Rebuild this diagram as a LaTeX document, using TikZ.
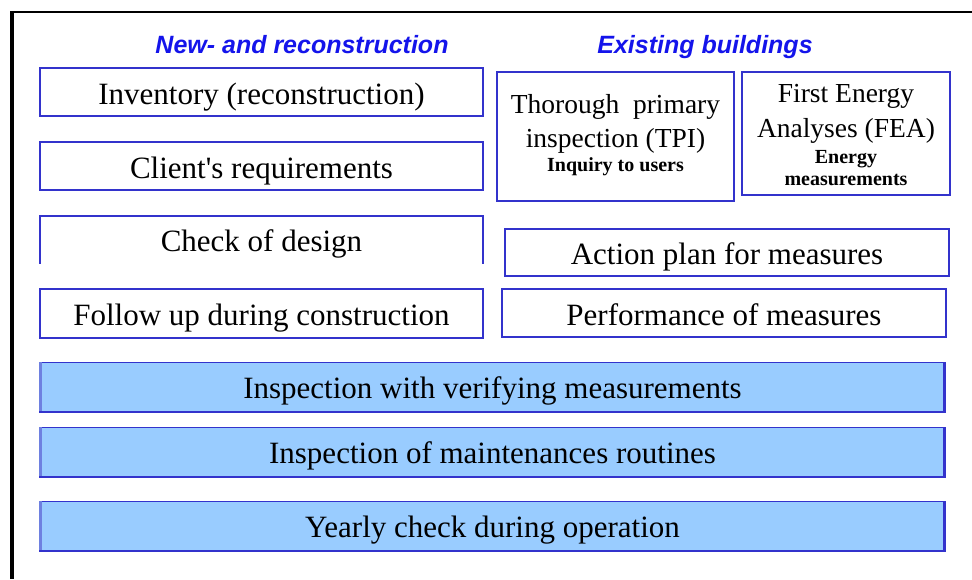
\documentclass[tikz,border=0pt]{standalone}
\usepackage{fontspec}
\setmainfont{Liberation Serif}[Ligatures=TeXOff]
\newfontfamily\headfont{Liberation Sans}
\definecolor{edgeblue}{RGB}{51,51,204}
\definecolor{headblue}{RGB}{20,20,235}
\definecolor{paleblue}{RGB}{153,204,255}
\definecolor{liteedge}{RGB}{110,128,224}
\tikzset{
  heading/.style={font=\headfont\bfseries\itshape\fontsize{25}{30}\selectfont,
    text=headblue, inner sep=0pt, anchor=base},
  stepbox/.style={draw=edgeblue, line width=2pt, inner sep=0pt, outer sep=0pt,
    text height=24pt, text depth=0pt, font=\fontsize{31}{36}\selectfont},
  openbox/.style={inner sep=0pt, outer sep=0pt,
    text height=23pt, text depth=0pt, font=\fontsize{31}{36}\selectfont},
  bandbox/.style={fill=paleblue, inner sep=0pt, outer sep=0pt,
    minimum width=907pt, minimum height=51pt,
    text height=21pt, text depth=0pt, font=\fontsize{31}{36}\selectfont},
  bigline/.style={inner sep=0pt, anchor=base, font=\fontsize{27.5}{33}\selectfont},
  smallline/.style={inner sep=0pt, anchor=base, font=\bfseries\fontsize{20}{24}\selectfont},
  frameline/.style={black},
}
% light-blue band with a bevelled outline
\newcommand\bevelband[1]{%
  \draw[edgeblue, line width=1.2pt] ([yshift=-0.6pt]#1.north west) -- ([yshift=-0.6pt]#1.north east);
  \draw[liteedge, line width=3pt] ([xshift=1.5pt]#1.north west) -- ([xshift=1.5pt]#1.south west);
  \draw[edgeblue, line width=2.4pt] ([yshift=1.2pt]#1.south west) -- ([yshift=1.2pt]#1.south east);
  \draw[edgeblue, line width=3pt] ([xshift=-1.5pt]#1.north east) -- ([xshift=-1.5pt]#1.south east);
}
\begin{document}
\begin{tikzpicture}[x=1pt, y=-1pt]
  \path[use as bounding box, fill=white] (0,0) rectangle (972,579);

  % page frame
  \draw[frameline, line width=2.4pt] (10,12) -- (972,12);
  \draw[frameline, line width=4pt] (12,11) -- (12,579);

  % column headings
  \node[heading] (hnew) at (302,53) {New- and reconstruction};
  \node[heading] (hold) at (705,53) {Existing buildings};

  % new and reconstruction column
  \node[stepbox, minimum width=443pt, minimum height=48pt] (inv) at (261.5,92) {Inventory (reconstruction)};
  \node[stepbox, minimum width=443pt, minimum height=48pt] (cli) at (261.5,166) {Client's requirements};
  \node[openbox, minimum width=443pt, minimum height=48pt] (chk) at (261.5,239.5) {Check of design};
  \draw[edgeblue, line width=2pt] (chk.south west) -- (chk.north west) -- (chk.north east) -- (chk.south east);
  \node[stepbox, minimum width=443pt, minimum height=49pt] (fol) at (261.5,313.5) {Follow up during construction};

  % existing buildings column
  \node[stepbox, minimum width=237pt, minimum height=129pt] (tpi) at (615.5,136.5) {};
  \node[bigline] (tpia) at (615.5,113) {Thorough\ \ primary};
  \node[bigline] (tpib) at (615.5,147) {inspection (TPI)};
  \node[smallline] (tpic) at (615.5,171) {Inquiry to users};

  \node[stepbox, minimum width=208pt, minimum height=123pt] (fea) at (846,133.5) {};
  \node[bigline] (feaa) at (846,102) {First Energy};
  \node[bigline] (feab) at (846,137) {Analyses (FEA)};
  \node[smallline] (feac) at (846,163) {Energy};
  \node[smallline] (fead) at (846,185) {measurements};

  \node[stepbox, minimum width=444pt, minimum height=47pt] (act) at (727,252.5) {Action plan for measures};
  \node[stepbox, minimum width=444pt, minimum height=48pt] (per) at (724,313) {Performance of measures};

  % common stages
  \node[bandbox] (ver) at (492.5,387.5) {Inspection with verifying measurements};
  \bevelband{ver}
  \node[bandbox] (mnt) at (492.5,452.5) {Inspection of maintenances routines};
  \bevelband{mnt}
  \node[bandbox] (yrl) at (492.5,526.5) {Yearly check during operation};
  \bevelband{yrl}
\end{tikzpicture}
\end{document}
